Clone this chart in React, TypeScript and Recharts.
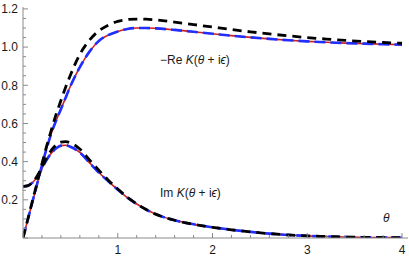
import React from "react";
import { LineChart, Line, XAxis, YAxis } from "recharts";

// theta samples and curve values
const theta = [
  0, 0.05, 0.1, 0.15, 0.2, 0.25, 0.3, 0.35, 0.4, 0.45, 0.5, 0.6, 0.7, 0.8, 0.9,
  1.0, 1.1, 1.2, 1.3, 1.4, 1.6, 1.8, 2.0, 2.2, 2.4, 2.6, 2.8, 3.0, 3.2, 3.4,
  3.6, 3.8, 4.0,
];
// -Re K, exact (red solid / blue dashed)
const negReK = [
  0, 0.095, 0.19, 0.285, 0.38, 0.47, 0.55, 0.615, 0.675, 0.735, 0.795, 0.895,
  0.975, 1.032, 1.063, 1.082, 1.095, 1.1, 1.1, 1.098, 1.09, 1.08, 1.07, 1.06,
  1.051, 1.043, 1.036, 1.03, 1.025, 1.021, 1.018, 1.015, 1.013,
];
// -Re K, approximation (black dashed)
const negReKApprox = [
  0, 0.097, 0.195, 0.29, 0.388, 0.482, 0.567, 0.648, 0.72, 0.79, 0.853, 0.962,
  1.035, 1.085, 1.115, 1.135, 1.144, 1.147, 1.146, 1.142, 1.131, 1.118, 1.105,
  1.092, 1.08, 1.069, 1.059, 1.05, 1.042, 1.035, 1.029, 1.024, 1.02,
];
// Im K, exact
const imK = [
  0.27, 0.273, 0.29, 0.32, 0.365, 0.41, 0.445, 0.47, 0.484, 0.486, 0.478, 0.448,
  0.395, 0.343, 0.297, 0.253, 0.212, 0.178, 0.149, 0.125, 0.093, 0.072, 0.056,
  0.043, 0.032, 0.023, 0.016, 0.011, 0.008, 0.005, 0.0035, 0.0025, 0.0015,
];
// Im K, approximation
const imKApprox = [
  0.27, 0.274, 0.292, 0.325, 0.372, 0.42, 0.46, 0.487, 0.502, 0.505, 0.498,
  0.466, 0.41, 0.355, 0.303, 0.257, 0.214, 0.179, 0.149, 0.125, 0.093, 0.072,
  0.056, 0.043, 0.032, 0.023, 0.016, 0.011, 0.008, 0.005, 0.0035, 0.0025,
  0.0015,
];

const xLabels = [1, 2, 3, 4];
const yLabels = [0.2, 0.4, 0.6, 0.8, 1.0, 1.2];

const data = theta.map((t, i) => ({
  t,
  re: negReK[i],
  reA: negReKApprox[i],
  im: imK[i],
  imA: imKApprox[i],
}));

// minor ticks every 0.2 on x, 0.05 on y
const xTicks = Array.from({ length: 21 }, (_, i) => Math.round(i * 20) / 100);
const yTicks = Array.from({ length: 25 }, (_, i) => Math.round(i * 5) / 100);

const AXIS = "#8a8a8a";
const TEXT = "#1a1a1a";
const FONT = "'Liberation Sans', Arial, sans-serif";

const near = (a: number, b: number) => Math.abs(a - b) < 1e-6;

const XTick = (props: any) => {
  const { x, y, payload } = props;
  const v = payload.value;
  const major = near(v, Math.round(v));
  const label = xLabels.some((l) => near(l, v));
  return (
    <g>
      <line x1={x} x2={x} y1={y} y2={y - (major ? 5 : 3)} stroke={AXIS} />
      {label && (
        <text x={x} y={y + 15.5} textAnchor="middle" fontSize={12} fill={TEXT} fontFamily={FONT}>
          {v}
        </text>
      )}
    </g>
  );
};

const YTick = (props: any) => {
  const { x, y, payload } = props;
  const v = payload.value;
  const label = yLabels.some((l) => near(l, v));
  const major = near(v * 5, Math.round(v * 5));
  return (
    <g>
      <line x1={x} x2={x + (major ? 5 : 3)} y1={y} y2={y} stroke={AXIS} />
      {label && (
        <text x={x - 5} y={y + 4.3} textAnchor="end" fontSize={12} fill={TEXT} fontFamily={FONT}>
          {v.toFixed(1)}
        </text>
      )}
    </g>
  );
};

const labelStyle: React.CSSProperties = {
  position: "absolute",
  fontFamily: FONT,
  fontSize: 12,
  lineHeight: "12px",
  color: TEXT,
  whiteSpace: "nowrap",
};

export default function App() {
  return (
    <div style={{ position: "absolute", left: 0, top: 0, width: 409, height: 258 }}>
      <LineChart
        width={409}
        height={258}
        data={data}
        margin={{ top: 7, right: 1, bottom: 0, left: 0 }}
      >
        <XAxis
          dataKey="t"
          type="number"
          domain={[0, 4.063]}
          ticks={xTicks}
          interval={0}
          tick={XTick}
          tickLine={false}
          tickSize={0}
          tickMargin={0}
          axisLine={{ stroke: AXIS }}
          height={20}
          allowDataOverflow
        />
        <YAxis
          type="number"
          domain={[0, 1.21]}
          ticks={yTicks}
          interval={0}
          tick={YTick}
          tickLine={false}
          tickSize={0}
          tickMargin={0}
          axisLine={{ stroke: AXIS }}
          width={23}
          allowDataOverflow
        />
        <Line type="monotone" dataKey="re" stroke="#cc2222" strokeWidth={1.6} dot={false} isAnimationActive={false} />
        <Line type="monotone" dataKey="im" stroke="#cc2222" strokeWidth={1.6} dot={false} isAnimationActive={false} />
        <Line type="monotone" dataKey="re" stroke="#1f2fff" strokeWidth={2.6} strokeDasharray="11 5" dot={false} isAnimationActive={false} />
        <Line type="monotone" dataKey="im" stroke="#1f2fff" strokeWidth={2.6} strokeDasharray="11 5" dot={false} isAnimationActive={false} />
        <Line type="monotone" dataKey="reA" stroke="#000" strokeWidth={2.8} strokeDasharray="9 6" dot={false} isAnimationActive={false} />
        <Line type="monotone" dataKey="imA" stroke="#000" strokeWidth={2.8} strokeDasharray="9 6" dot={false} isAnimationActive={false} />
      </LineChart>
      <div style={{ ...labelStyle, left: 160, top: 54 }}>
        −Re <i>K</i>(<i>θ</i> + i<i>ϵ</i>)
      </div>
      <div style={{ ...labelStyle, left: 160, top: 187 }}>
        Im <i>K</i>(<i>θ</i> + i<i>ϵ</i>)
      </div>
      <div style={{ ...labelStyle, left: 383, top: 212 }}>
        <i>θ</i>
      </div>
    </div>
  );
}
